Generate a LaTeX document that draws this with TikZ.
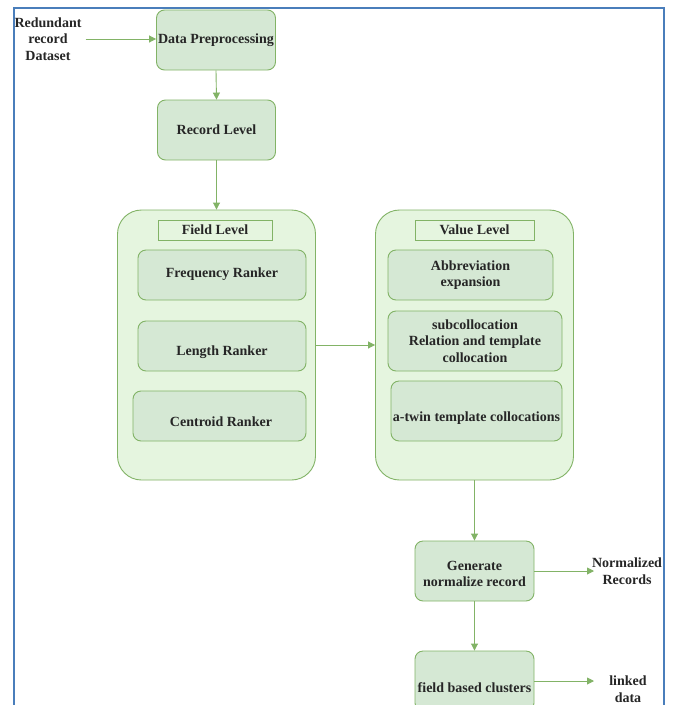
\documentclass[tikz,border=0pt]{standalone}
\usepackage{fontspec}
\setmainfont{Liberation Serif}
\usetikzlibrary{arrows.meta,positioning,calc}
\definecolor{gstroke}{HTML}{82B366}
\definecolor{gfill}{HTML}{D5E8D4}
\definecolor{cfill}{HTML}{E5F5DF}
\definecolor{frameblue}{HTML}{4A7EBB}
\tikzset{
  every node/.style={font=\bfseries\fontsize{14}{16.5}\selectfont, text=black!85},
  gbox/.style={draw=gstroke, fill=gfill, line width=0.9pt, rounded corners=8pt, inner sep=0pt},
  cbox/.style={draw=gstroke, fill=cfill, line width=0.9pt, rounded corners=24pt, inner sep=0pt},
  lbox/.style={draw=gstroke, fill=cfill, line width=0.9pt, inner sep=0pt},
  txt/.style={align=center, inner sep=1pt},
  garrow/.style={draw=gstroke, line width=0.9pt, -{Triangle[length=7pt,width=7pt]}},
  gline/.style={draw=gstroke, line width=0.9pt}
}
\begin{document}
\begin{tikzpicture}[x=1pt,y=-1pt]
\useasboundingbox (0,0) rectangle (676,705);
\clip (0,0) rectangle (676,705);
\fill[white] (0,0) rectangle (676,705);
% frame
\draw[frameblue, line width=2pt] (14,710) -- (14,8) -- (664,8) -- (664,710);

% top boxes
\node[gbox, minimum width=119pt, minimum height=60pt] (dp) at (216,40) {Data Preprocessing};
\node[gbox, minimum width=118pt, minimum height=60pt] (rl) at (216.5,130) {Record Level};
\node[txt] (red) at (48,39) {Redundant\\record\\Dataset};

% field level container
\node[cbox, minimum width=198pt, minimum height=270pt] (fl) at (216.5,345) {};
\node[lbox, minimum width=114pt, minimum height=20pt] (fllab) at (215,230) {Field Level};
\node[gbox, minimum width=168pt, minimum height=50pt] (fr) at (222,275) {};
\node[txt] (frt) at (222,274) {Frequency Ranker};
\node[gbox, minimum width=168pt, minimum height=50pt] (lr) at (222,346) {};
\node[txt] (lrt) at (222,352) {Length Ranker};
\node[gbox, minimum width=173pt, minimum height=50pt] (cr) at (219.5,416) {};
\node[txt] (crt) at (221,422) {Centroid Ranker};

% value level container
\node[cbox, minimum width=198pt, minimum height=270pt] (vl) at (474.5,345) {};
\node[lbox, minimum width=119pt, minimum height=20pt] (vllab) at (474.5,230) {Value Level};
\node[gbox, minimum width=165pt, minimum height=50pt] (ab) at (470.5,275) {};
\node[txt] (abt) at (470.5,275) {Abbreviation\\expansion};
\node[gbox, minimum width=174pt, minimum height=60pt] (sc) at (475,341) {};
\node[txt] (sct) at (475,341) {subcollocation\\Relation and template\\collocation};
\node[gbox, minimum width=171pt, minimum height=60pt] (tw) at (476.5,411) {};
\node[txt] (twt) at (476.5,418) {a-twin template collocations};

% bottom
\node[gbox, minimum width=119pt, minimum height=60pt] (gen) at (474.5,571) {};
\node[txt] (gent) at (474.5,574) {Generate\\normalize record};
\node[gbox, minimum width=119pt, minimum height=60pt] (fbc) at (474.5,681) {};
\node[txt] (fbct) at (474.5,688) {field based clusters};
\node[txt] (nr) at (627,571) {Normalized\\Records};
\node[txt] (ld) at (628,689) {linked\\data};

% connectors
\draw[garrow] ([xshift=3pt]red.east) -- (dp.west |- red.east);
\draw[garrow] (dp.south) -- (rl.north);
\draw[garrow] (rl.south) -- (fl.north);
\draw[garrow] (fl.east) -- (vl.west);
\draw[garrow] (vl.south) -- (gen.north);
\coordinate (nrend) at (594,571);
\draw[garrow] (gen.east) -- (nrend);
\draw[garrow] (gen.south) -- (fbc.north);
\coordinate (ldend) at (594,681);
\draw[garrow] (fbc.east |- ldend) -- (ldend);
\end{tikzpicture}
\end{document}
